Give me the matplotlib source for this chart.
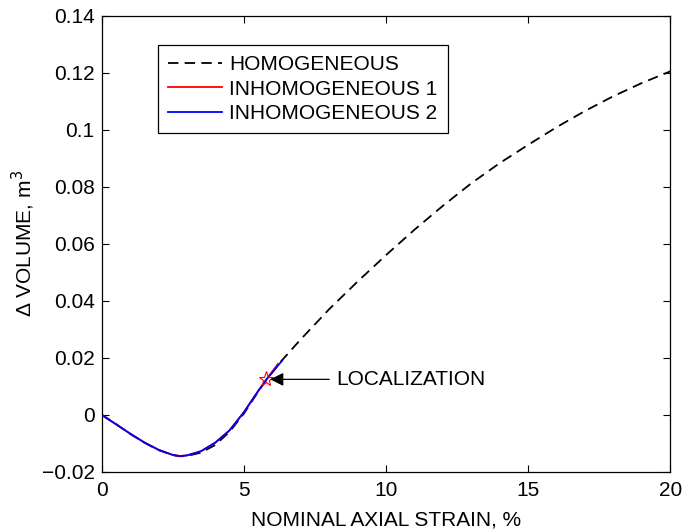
import matplotlib
matplotlib.use("Agg")
import matplotlib.pyplot as plt
from matplotlib.ticker import FuncFormatter

plt.rcParams['font.family'] = ['Liberation Sans', 'DejaVu Sans']
plt.rcParams['lines.scale_dashes'] = False

# Data
strain_hom = [0.0, 0.5, 1.0, 1.5, 2.0, 2.5, 2.75, 3.0, 3.5, 4.0, 4.5, 5.0, 5.5, 5.8, 6.3,
              7.0, 8.0, 9.0, 10.0, 11.0, 12.0, 13.0, 14.0, 15.0, 16.0, 17.0, 18.0, 19.0, 20.0]
vol_hom = [0.0, -0.0032, -0.0067, -0.0098, -0.0124, -0.0142, -0.0146, -0.0145, -0.0133,
           -0.0106, -0.0060, 0.0003, 0.0080, 0.0123, 0.0186,
           0.0264, 0.0370, 0.0467, 0.0560, 0.0649, 0.0733, 0.0812, 0.0883, 0.0947,
           0.1009, 0.1066, 0.1118, 0.1164, 0.1205]

strain_inh1 = [0.0, 0.5, 1.0, 1.5, 2.0, 2.5, 2.75, 3.0, 3.5, 4.0, 4.5, 5.0, 5.5, 5.8, 6.2]
vol_inh1 = [0.0, -0.0033, -0.0066, -0.0097, -0.0123, -0.0141, -0.0145, -0.0143, -0.0128,
            -0.0098, -0.0055, 0.0008, 0.0082, 0.0124, 0.0178]

strain_inh2 = [0.0, 0.5, 1.0, 1.5, 2.0, 2.5, 2.75, 3.0, 3.5, 4.0, 4.5, 5.0, 5.5, 5.8, 6.35]
vol_inh2 = [0.0, -0.0033, -0.0066, -0.0097, -0.0123, -0.0141, -0.0145, -0.0143, -0.0128,
            -0.0098, -0.0055, 0.0008, 0.0082, 0.0124, 0.0190]

loc_strain = 5.78
loc_vol = 0.0124

xticks = [0, 5, 10, 15, 20]
yticks = [-0.02, 0, 0.02, 0.04, 0.06, 0.08, 0.10, 0.12, 0.14]

FS = 15

fig = plt.figure(figsize=(6.85, 5.30), dpi=100)
ax = fig.add_axes([0.1482, 0.110, 0.9788 - 0.1482, 0.9704 - 0.110])

ax.plot(strain_hom, vol_hom, color='black', linestyle='--', dashes=(7.5, 4.5),
        linewidth=1.3, label='HOMOGENEOUS')
ax.plot(strain_inh1, vol_inh1, color='red', linewidth=1.3, label='INHOMOGENEOUS 1')
ax.plot(strain_inh2, vol_inh2, color='blue', linewidth=1.3, label='INHOMOGENEOUS 2')
ax.plot([loc_strain], [loc_vol], marker='*', markersize=11, markerfacecolor='none',
        markeredgecolor='red', markeredgewidth=0.8, linestyle='none')

ax.annotate('LOCALIZATION', xy=(loc_strain + 0.15, loc_vol), xytext=(8.25, loc_vol),
            fontsize=FS, va='center', ha='left',
            arrowprops=dict(arrowstyle='-|>', color='black', lw=0.9,
                            mutation_scale=20, shrinkA=3, shrinkB=0))

ax.set_xlim(0, 20)
ax.set_ylim(-0.02, 0.14)
ax.set_xticks(xticks)
ax.set_yticks(yticks)

def fmt(v, pos):
    s = ('%g' % round(v, 4))
    return s.replace('-', '\u2212')

ax.xaxis.set_major_formatter(FuncFormatter(fmt))
ax.yaxis.set_major_formatter(FuncFormatter(fmt))
ax.tick_params(axis='y', direction='in', left=True, right=True, length=5, width=0.8,
               labelsize=FS, pad=5)
ax.tick_params(axis='x', direction='in', top=True, bottom=True, length=5, width=0.8,
               labelsize=FS, pad=7)
for sp in ax.spines.values():
    sp.set_linewidth(0.9)

ax.set_xlabel('NOMINAL AXIAL STRAIN, %', fontsize=FS, labelpad=7)
ax.set_ylabel('\u0394 VOLUME, m$^3$', fontsize=FS, labelpad=3)

leg = ax.legend(loc='upper left', bbox_to_anchor=(0.0993, 0.9357), fontsize=FS,
                frameon=True, fancybox=False, edgecolor='black', framealpha=1,
                handlelength=2.55, handletextpad=0.35, borderpad=0.5,
                labelspacing=0.25, borderaxespad=0)
leg.get_frame().set_linewidth(0.9)

fig.savefig('out.png', dpi=100)
